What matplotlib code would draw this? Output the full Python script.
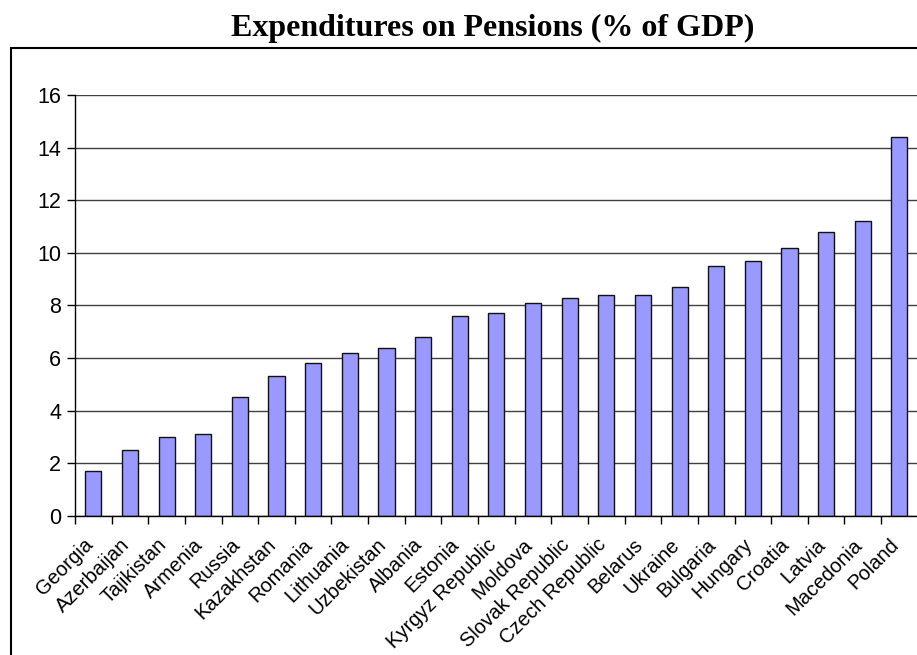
import matplotlib
matplotlib.use('Agg')
from matplotlib import pyplot as plt
from matplotlib.patches import Rectangle
from matplotlib.transforms import ScaledTranslation

countries = ['Georgia', 'Azerbaijan', 'Tajikistan', 'Armenia', 'Russia', 'Kazakhstan',
             'Romania', 'Lithuania', 'Uzbekistan', 'Albania', 'Estonia', 'Kyrgyz Republic',
             'Moldova', 'Slovak Republic', 'Czech Republic', 'Belarus', 'Ukraine',
             'Bulgaria', 'Hungary', 'Croatia', 'Latvia', 'Macedonia', 'Poland']
pension_pct_gdp = [1.7, 2.5, 3.0, 3.1, 4.5, 5.3, 5.8, 6.2, 6.4, 6.8, 7.6, 7.7,
                   8.1, 8.3, 8.4, 8.4, 8.7, 9.5, 9.7, 10.2, 10.8, 11.2, 14.4]
y_ticks = [0, 2, 4, 6, 8, 10, 12, 14, 16]

plt.rcParams['font.family'] = ['Liberation Sans', 'DejaVu Sans']

fig = plt.figure(figsize=(9.17, 6.55), dpi=100)
ax = fig.add_axes([0.0818, 0.2127, 0.919, 0.6418])

x = list(range(len(countries)))
ax.bar(x, pension_pct_gdp, width=0.44, color='#9999FF', edgecolor='#111111',
       linewidth=1.0, zorder=3)

ax.set_xlim(-0.5, len(countries) - 0.5)
ax.set_ylim(0, 16)
ax.set_yticks(y_ticks)
ax.yaxis.grid(True, color='#404040', linewidth=1.0, zorder=0)
ax.tick_params(axis='y', labelsize=15.5, length=6, width=1, direction='out', pad=4)

# labels sit under each bar, tick marks go between categories
ax.set_xticks(x)
ax.set_xticklabels(countries, rotation=45, ha='right', rotation_mode='anchor')
ax.tick_params(axis='x', which='major', length=0, labelsize=14.5, pad=14)
ax.set_xticks([i - 0.5 for i in range(len(countries) + 1)], minor=True)
ax.tick_params(axis='x', which='minor', length=6, width=1, direction='out')
shift = ScaledTranslation(-10 / 100, 0, fig.dpi_scale_trans)
for lbl in ax.get_xticklabels():
    lbl.set_transform(lbl.get_transform() + shift)

for side in ['top', 'right']:
    ax.spines[side].set_visible(False)
for side in ['left', 'bottom']:
    ax.spines[side].set_linewidth(1.0)
    ax.spines[side].set_zorder(4)

# chart area border
fig.add_artist(Rectangle((10.5 / 917, -0.5), 2.0, 0.5 + (655 - 48) / 655,
                         transform=fig.transFigure, fill=False,
                         edgecolor='black', linewidth=1.5))

fig.text(0.537, 0.957, 'Expenditures on Pensions (% of GDP)', ha='center', va='center',
         fontsize=23, fontweight='bold', family=['Liberation Serif', 'DejaVu Serif'])

fig.savefig('out.png', dpi=100)
